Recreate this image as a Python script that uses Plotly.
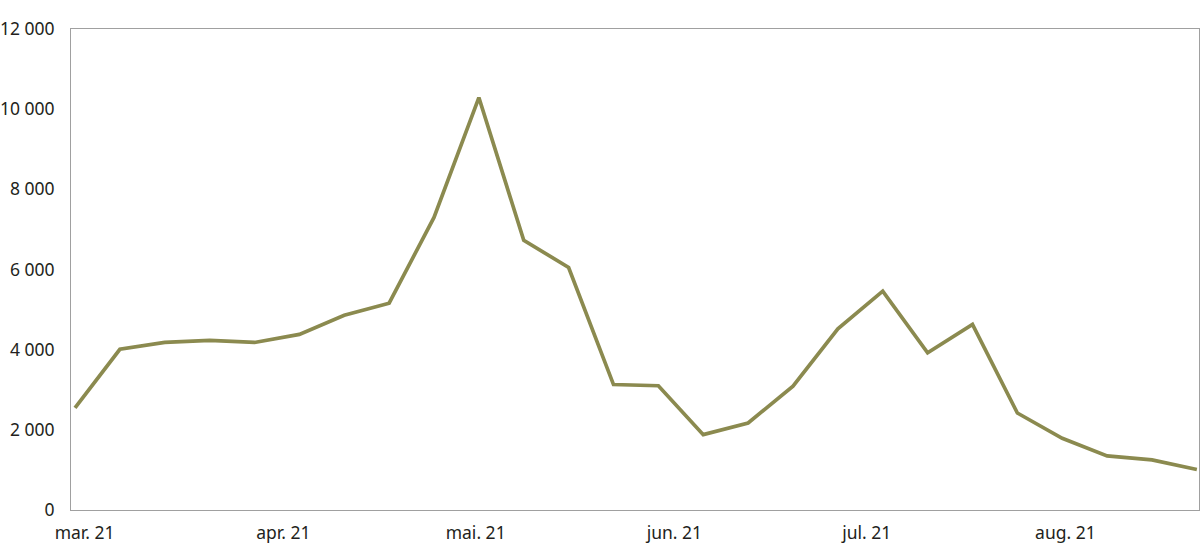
import plotly.graph_objects as go

# Weekly dates (x) and values (y)
dates = [
    "2021-02-28", "2021-03-07", "2021-03-14", "2021-03-21", "2021-03-28",
    "2021-04-04", "2021-04-11", "2021-04-18", "2021-04-25", "2021-05-02",
    "2021-05-09", "2021-05-16", "2021-05-23", "2021-05-30", "2021-06-06",
    "2021-06-13", "2021-06-20", "2021-06-27", "2021-07-04", "2021-07-11",
    "2021-07-18", "2021-07-25", "2021-08-01", "2021-08-08", "2021-08-15",
    "2021-08-22",
]
values = [
    2550, 4010, 4180, 4230, 4180, 4380, 4860, 5160, 7300, 10290,
    6730, 6050, 3130, 3100, 1880, 2170, 3090, 4520, 5460, 3920,
    4630, 2420, 1790, 1350, 1250, 1010,
]

x_tick_dates = ["2021-03-01 12:00", "2021-04-01 12:00", "2021-05-01 12:00",
                "2021-06-01 12:00", "2021-07-01 12:00", "2021-08-01 12:00"]
x_tick_labels = ["mar. 21", "apr. 21", "mai. 21", "jun. 21", "jul. 21", "aug. 21"]
y_tick_vals = [0, 2000, 4000, 6000, 8000, 10000, 12000]
y_tick_labels = ["0", "2 000", "4 000", "6 000", "8 000", "10 000", "12 000"]

line_color = "#8B8A4F"
axis_color = "#A0A0A0"
font_family = "Noto Sans"

fig = go.Figure()
fig.add_trace(go.Scatter(
    x=dates, y=values, mode="lines",
    line=dict(color=line_color, width=3.7),
    hoverinfo="skip", showlegend=False,
))

fig.update_layout(
    width=1200, height=558,
    margin=dict(l=71, r=1, t=29, b=48, autoexpand=False),
    paper_bgcolor="white", plot_bgcolor="white",
    font=dict(family=font_family, size=17.5, color="#231f20"),
    showlegend=False,
)
fig.update_xaxes(
    type="date", automargin=False,
    range=["2021-02-27 09:00", "2021-08-22 08:00"],
    tickmode="array", tickvals=x_tick_dates, ticktext=x_tick_labels,
    showgrid=False, zeroline=False,
    showline=True, linecolor=axis_color, linewidth=1, mirror=True,
    ticks="", ticklabelstandoff=7,
)
fig.update_yaxes(
    range=[0, 12000], automargin=False,
    tickmode="array", tickvals=y_tick_vals, ticktext=y_tick_labels,
    showgrid=False, zeroline=False,
    showline=True, linecolor=axis_color, linewidth=1, mirror=True,
    ticks="", ticklabelstandoff=12,
)

fig.write_html(
    "out.html",
    config={"displayModeBar": False, "staticPlot": True},
    post_script="document.body.style.margin='0';document.body.style.overflow='hidden';",
)
